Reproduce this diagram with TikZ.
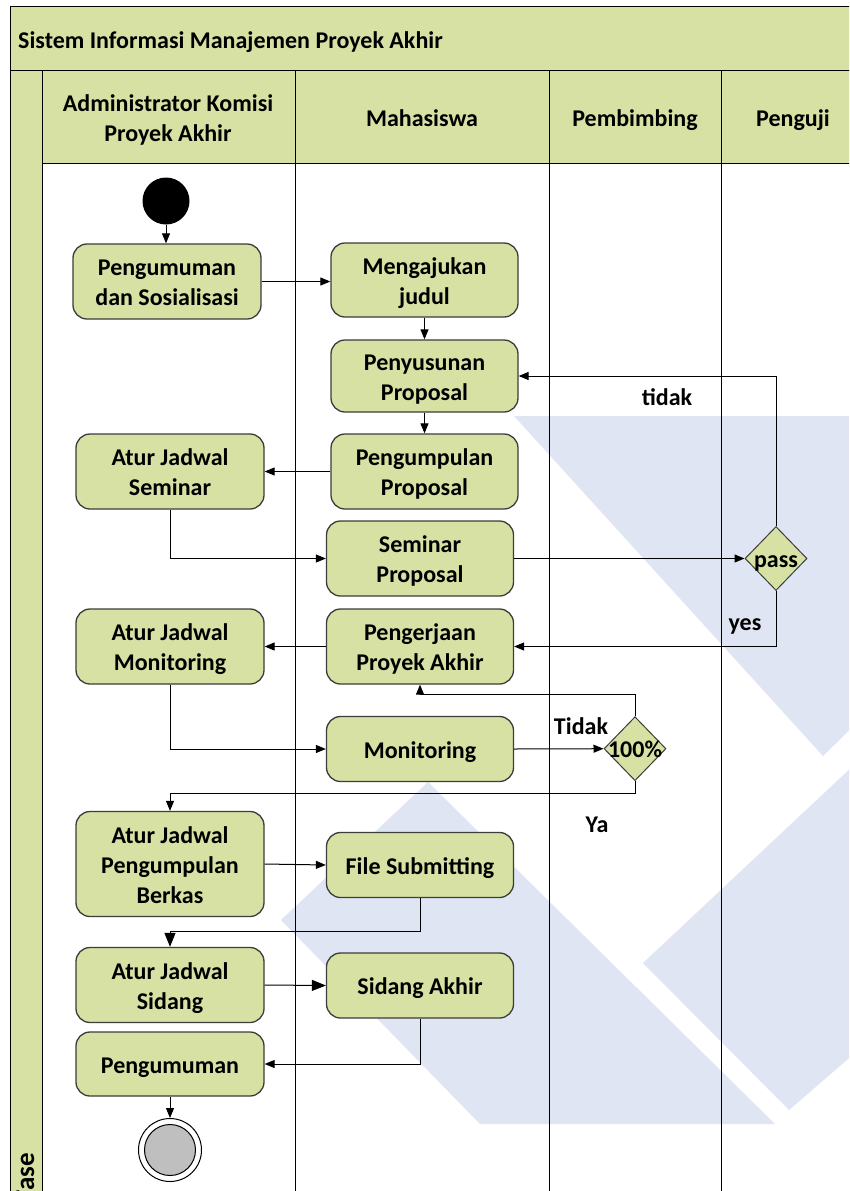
\documentclass[tikz,border=0pt]{standalone}
\usepackage{fontspec}
\setmainfont{Carlito}
\usetikzlibrary{arrows.meta,shapes.geometric}

\definecolor{lanegreen}{RGB}{214,225,163}
\definecolor{markblue}{RGB}{223,229,242}
\definecolor{edgegray}{RGB}{60,60,60}
\definecolor{endgray}{RGB}{191,191,191}

% centred block of lines, set a little lower than its box
\newcommand\celltext[1]{\raisebox{-3pt}[\height][\depth]{\begin{tabular}{@{}c@{}}#1\end{tabular}}}

\tikzset{
  txt/.style={font=\fontsize{24}{30}\selectfont\bfseries},
  act/.style={txt, draw=edgegray, line width=1.3pt, fill=lanegreen,
    rounded corners=14pt, minimum width=187pt, inner sep=0pt},
  decision/.style={diamond, draw=edgegray, line width=1pt, fill=lanegreen,
    minimum width=62pt, minimum height=64pt, inner sep=0pt},
  flow/.style={line width=1pt, -{Triangle[length=10pt,width=8pt]}},
  bigflow/.style={line width=1pt, -{Triangle[length=14pt,width=11pt]}},
  lbl/.style={txt, inner sep=0pt},
  frame/.style={draw=black, line width=1pt},
}

\begin{document}
\begin{tikzpicture}[x=1pt,y=-1pt]
  \useasboundingbox (0,0) rectangle (849,1191);
  \clip (0,0) rectangle (849,1191);
  \fill[white] (0,0) rectangle (849,1191);

  % faint logo shapes in the background
  \fill[markblue] (514,416) -- (870,416) -- (870,710) -- (823,756) -- cycle;
  \fill[markblue] (428,782) -- (281,920) -- (480,1124) -- (775,1124) -- cycle;
  \fill[markblue] (643,963) -- (870,750) -- (870,1040) -- (789,1110) -- cycle;

  % pool title bar
  \filldraw[fill=lanegreen, frame] (10,6) rectangle (880,70);
  \node[lbl, anchor=base west] (title) at (18,48) {Sistem Informasi Manajemen Proyek Akhir};

  % phase strip on the left
  \filldraw[fill=lanegreen, frame] (10,70) rectangle (42,1220);
  \node[lbl, font=\fontsize{27}{30}\selectfont\bfseries, rotate=90, anchor=base east] (phase) at (34,1153) {Fase};

  % lane headers
  \filldraw[fill=lanegreen, frame] (42,70) rectangle (880,163);
  \draw[frame] (295,70) -- (295,1220);
  \draw[frame] (549,70) -- (549,1220);
  \draw[frame] (721,70) -- (721,1220);
  \node[lbl] (hadmin) at (168,117) {\celltext{Administrator Komisi\\Proyek Akhir}};
  \node[lbl] (hmhs) at (422,117) {\celltext{Mahasiswa}};
  \node[lbl] (hpemb) at (635,117) {\celltext{Pembimbing}};
  \node[lbl] (hpeng) at (793,117) {\celltext{Penguji}};

  % activities
  \node[circle, fill=black, minimum size=47pt, inner sep=0pt] (start) at (166,201) {};
  \node[act, minimum height=75pt, minimum width=188pt] (sosial) at (167,281.5) {\celltext{Pengumuman\\dan Sosialisasi}};
  \node[act, minimum height=74pt] (judul) at (424.5,280) {\celltext{Mengajukan\\judul}};
  \node[act, minimum height=72pt] (susun) at (424.5,376) {\celltext{Penyusunan\\Proposal}};
  \node[act, minimum height=75pt] (kumpul) at (424.5,471.5) {\celltext{Pengumpulan\\Proposal}};
  \node[act, minimum height=75pt, minimum width=188pt] (jseminar) at (170,471.5) {\celltext{Atur Jadwal\\Seminar}};
  \node[act, minimum height=75pt] (seminar) at (420,558.5) {\celltext{Seminar\\Proposal}};
  \node[decision] (pass) at (776,558.5) {};
  \node[lbl] (passtxt) at (pass) {\celltext{pass}};
  \node[act, minimum height=75pt, minimum width=188pt] (jmonitor) at (170,646.5) {\celltext{Atur Jadwal\\Monitoring}};
  \node[act, minimum height=75pt] (kerja) at (420,646.5) {\celltext{Pengerjaan\\Proyek Akhir}};
  \node[act, minimum height=65pt] (monitor) at (420,749) {\celltext{Monitoring}};
  \node[decision] (full) at (635,748.7) {};
  \node[lbl] (fulltxt) at (full) {\celltext{100\%}};
  \node[act, minimum height=105pt, minimum width=188pt] (jberkas) at (170,864) {\celltext{Atur Jadwal\\Pengumpulan\\Berkas}};
  \node[act, minimum height=65pt] (submit) at (420,865) {\celltext{File Submitting}};
  \node[act, minimum height=75pt, minimum width=188pt] (jsidang) at (170,985) {\celltext{Atur Jadwal\\Sidang}};
  \node[act, minimum height=65pt] (sidang) at (420,985.5) {\celltext{Sidang Akhir}};
  \node[act, minimum height=64pt, minimum width=188pt] (umum) at (170,1064) {\celltext{Pengumuman}};
  \node[circle, draw=black, line width=1pt, fill=white, minimum size=63pt, inner sep=0pt] (finish) at (170,1150) {};
  \node[circle, draw=black, line width=1pt, fill=endgray, minimum size=51pt, inner sep=0pt] (finishin) at (finish) {};

  % flows
  \draw[flow] (start.south) -- (start.south |- sosial.north);
  \draw[flow] (sosial.east) -- (sosial.east -| judul.west);
  \draw[flow] (judul.south) -- (susun.north);
  \draw[flow] (susun.south) -- (kumpul.north);
  \draw[flow] (kumpul.west) -- (jseminar.east);
  \draw[flow] (jseminar.south) |- (seminar.west);
  \draw[flow] (seminar.east) -- (pass.west);
  \draw[flow] (pass.north) |- (susun.east);
  \draw[flow] (pass.south) |- (kerja.east);
  \draw[flow] (kerja.west) -- (jmonitor.east);
  \draw[flow] (jmonitor.south) |- (monitor.west);
  \draw[flow] (monitor.east) -- (full.west);
  \draw[flow] (full.north) -- ++(0,-22) -| (kerja.south);
  \draw[flow] (full.south) -- ++(0,12) -| (jberkas.north);
  \draw[flow] (jberkas.east) -- (submit.west);
  \draw[bigflow] (submit.south) -- ++(0,33) -| (jsidang.north);
  \draw[bigflow] (jsidang.east) -- (sidang.west);
  \draw[flow] (sidang.south) |- (umum.east);
  \draw[flow] (umum.south) -- (finish.north);

  % guard labels
  \node[lbl] (ltidak) at (667,396) {\celltext{tidak}};
  \node[lbl] (lyes) at (745,621) {\celltext{yes}};
  \node[lbl] (lTidak) at (581,725) {\celltext{Tidak}};
  \node[lbl] (lya) at (597,823) {\celltext{Ya}};
\end{tikzpicture}
\end{document}
